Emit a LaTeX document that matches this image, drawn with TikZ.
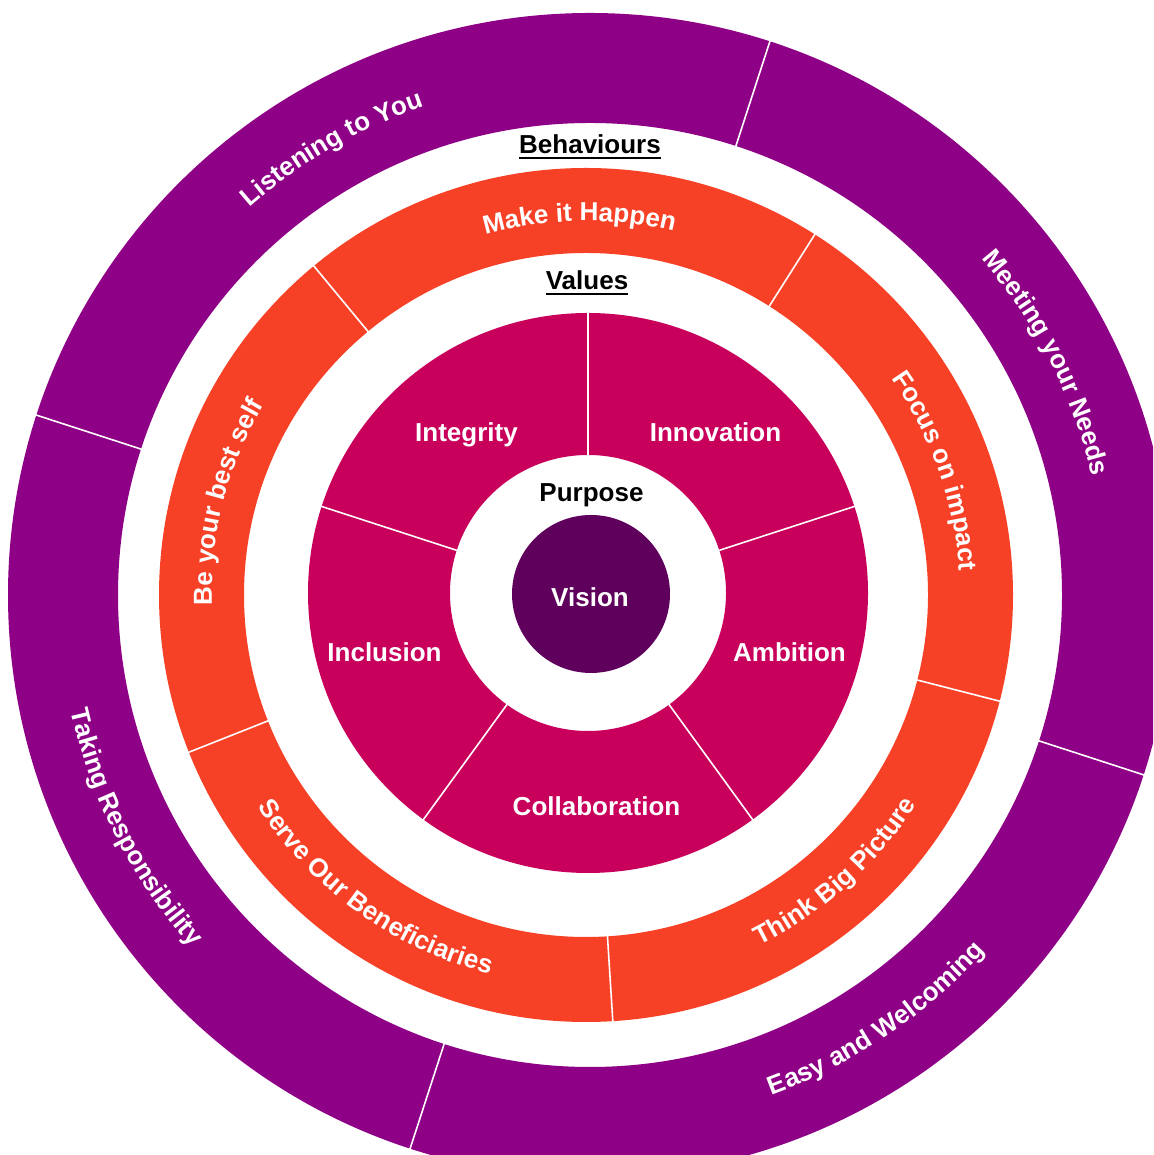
\documentclass[tikz,border=0pt]{standalone}
\usepackage{fontspec}
\setmainfont{Liberation Sans}
\usetikzlibrary{decorations.text}
\definecolor{ringpurple}{HTML}{8E0086}
\definecolor{ringorange}{HTML}{F74127}
\definecolor{ringmagenta}{HTML}{C8005C}
\definecolor{visionpurple}{HTML}{5E005C}
\newcommand\lblfont{\fontsize{26}{30}\selectfont\bfseries}
\tikzset{
  divider/.style={white, line width=1.6pt},
  flatlabel/.style={font=\lblfont, inner sep=0pt, anchor=base},
  arclabel/.style={decorate, decoration={text along path, text align=center, text color=white, text={|\lblfont|#1}}},
}
\begin{document}
\begin{tikzpicture}[x=1pt,y=1pt]
\useasboundingbox (0,0) rectangle (1153,1155);
\fill[white] (0,0) rectangle (1153,1155);
% outer purple ring (Behaviours)
\begin{scope}
  \clip (0,0) rectangle (1153,1155);
  \fill[ringpurple, even odd rule] (590,560) circle[radius=582pt] circle[radius=472pt];
  \begin{scope}[shift={(590,560)}]
    \foreach \a in {72,162,252,342} \draw[divider] (\a:470pt) -- (\a:586pt);
    \path[arclabel={Listening to You}] (160:516pt) arc[start angle=160, end angle=80, radius=516pt];
    \path[arclabel={Meeting your Needs}] (67:516pt) arc[start angle=67, end angle=-13, radius=516pt];
    \path[arclabel={Easy and Welcoming}] (-96:532pt) arc[start angle=-96, end angle=-16, radius=532pt];
    \path[arclabel={Taking Responsibility}] (167:532pt) arc[start angle=167, end angle=247, radius=532pt];
  \end{scope}
\end{scope}
% orange ring (behaviours)
\fill[ringorange, even odd rule] (586,560) circle[radius=427pt] circle[radius=342pt];
\begin{scope}[shift={(586,560)}]
  \foreach \a in {57.6,129.6,201.6,273.6,345.6} \draw[divider] (\a:340pt) -- (\a:429pt);
  \path[arclabel={Make it Happen}] (136:374pt) arc[start angle=136, end angle=46, radius=374pt];
  \path[arclabel={Focus on impact}] (64.5:374pt) arc[start angle=64.5, end angle=-25.5, radius=374pt];
  \path[arclabel={Be your best self}] (210.5:374pt) arc[start angle=210.5, end angle=120.5, radius=374pt];
  \path[arclabel={Think Big Picture}] (-93:391pt) arc[start angle=-93, end angle=-3, radius=391pt];
  \path[arclabel={Serve Our Beneficiaries}] (184.3:391pt) arc[start angle=184.3, end angle=284.3, radius=391pt];
\end{scope}
% magenta ring (values)
\fill[ringmagenta, even odd rule] (588,562) circle[radius=280pt] circle[radius=138pt];
\begin{scope}[shift={(588,562)}]
  \foreach \a in {18,90,162,234,306} \draw[divider] (\a:136pt) -- (\a:282pt);
\end{scope}
% vision
\fill[visionpurple] (591,561) circle[radius=79pt];
% flat labels
\node[flatlabel, white] (integrity) at (466.5,713) {Integrity};
\node[flatlabel, white] (innovation) at (715.5,713) {Innovation};
\node[flatlabel, white] (ambition) at (789.5,493) {Ambition};
\node[flatlabel, white] (inclusion) at (384.5,493) {Inclusion};
\node[flatlabel, white] (collab) at (596.5,339) {Collaboration};
\node[flatlabel, black] (purpose) at (591.5,653) {Purpose};
\node[flatlabel, white] (vision) at (590,548) {Vision};
\node[flatlabel, black] (behav) at (590,1001) {Behaviours};
\node[flatlabel, black] (values) at (587,865) {Values};
\draw[line width=1.8pt] ([yshift=-4pt]behav.base west) -- ([yshift=-4pt]behav.base east);
\draw[line width=1.8pt] ([yshift=-4pt]values.base west) -- ([yshift=-4pt]values.base east);
\end{tikzpicture}
\end{document}
